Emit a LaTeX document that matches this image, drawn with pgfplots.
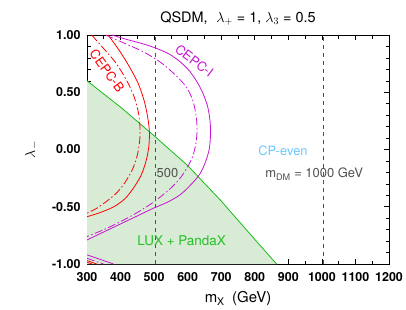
\documentclass[border=0pt]{standalone}
\usepackage{pgfplots}
\pgfplotsset{compat=1.18}
\usepackage{fontspec}
\setmainfont{TeX Gyre Heros}
\definecolor{fillg}{RGB}{216,235,213}
\definecolor{lineg}{RGB}{20,190,20}
\definecolor{txtg}{RGB}{40,190,40}
\definecolor{mag}{RGB}{200,20,210}
\definecolor{skyb}{RGB}{110,200,255}
\definecolor{dgray}{RGB}{80,80,80}
\begin{document}
\begin{tikzpicture}
\begin{axis}[name=ax, scale only axis, width=302bp, height=229bp,
  xmin=300, xmax=1200, ymin=-1, ymax=1,
  xtick={300,400,500,600,700,800,900,1000,1100,1200},
  xticklabels={300,400,500,600,700,800,900,1000,1100,1200},
  ytick={-1,-0.5,0,0.5,1},
  yticklabels={-1.00,-0.50,0.00,0.50,1.00},
  minor x tick num=1, minor y tick num=4,
  tick align=inside, xtick pos=both, ytick pos=both,
  major tick length=5bp, minor tick length=3.5bp,
  tick style={black, line width=0.6pt},
  axis line style={line width=1pt},
  ticklabel style={font=\fontsize{12.5}{14}\selectfont\bfseries},
  xticklabel style={yshift=-5bp},
  yticklabel style={xshift=-3bp},
  xlabel={m$_{\mathrm{X}}$\,\,\,(GeV)},
  ylabel={$\lambda_-$},
  xlabel style={font=\fontsize{15}{17}\selectfont, yshift=-3bp},
  ylabel style={font=\fontsize{15}{17}\selectfont, yshift=7bp},
  title={QSDM,\,\, $\lambda_+$ = 1, $\lambda_3$ = 0.5},
  title style={font=\fontsize{14.5}{16}\selectfont},
  clip=true,
]
% LUX + PandaX excluded region
\addplot[fill=fillg, draw=none] coordinates {(300,-1) (300,0.60) (400,0.37) (500,0.12) (600,-0.14) (700,-0.45) (800,-0.785) (865,-1.0)} -- cycle;
\addplot[lineg, line width=0.8pt] coordinates {(300,0.60) (400,0.37) (500,0.12) (600,-0.14) (700,-0.45) (800,-0.785) (865,-1.0)};
% red solid
\addplot[red, line width=0.8pt, smooth] coordinates {(363,1.0) (395,0.87) (425,0.73) (452,0.58) (470,0.43) (481,0.28) (486,0.15) (484,0.02) (476,-0.10) (462,-0.22) (440,-0.33) (413,-0.43) (380,-0.50) (340,-0.55) (300,-0.587)};
\addplot[red, line width=0.8pt] coordinates {(300,-0.97) (329,-1.0)};
% red dash-dot
\addplot[red, line width=0.8pt, smooth, dash pattern=on 8pt off 2.5pt on 1.5pt off 2.5pt] coordinates {(314,1.0) (350,0.88) (385,0.76) (415,0.62) (438,0.48) (452,0.34) (458,0.2) (457,0.08) (450,-0.05) (436,-0.17) (415,-0.28) (388,-0.38) (355,-0.46) (325,-0.52) (300,-0.556)};
\addplot[red, line width=0.8pt, dash pattern=on 8pt off 2.5pt on 1.5pt off 2.5pt] coordinates {(300,-0.985) (315,-1.0)};
% magenta solid
\addplot[mag, line width=0.8pt, smooth] coordinates {(374,1.0) (420,0.96) (470,0.92) (510,0.88) (547,0.83) (580,0.76) (607,0.68) (630,0.58) (647,0.48) (660,0.37) (667,0.24) (668,0.12) (664,0.0) (653,-0.11) (637,-0.21) (615,-0.29) (580,-0.39) (540,-0.46) (500,-0.51) (450,-0.58) (400,-0.65) (350,-0.72) (300,-0.79)};
\addplot[mag, line width=0.8pt, smooth] coordinates {(300,-0.92) (340,-0.96) (379,-1.0)};
% magenta dash-dot
\addplot[mag, line width=0.8pt, smooth, dash pattern=on 8pt off 2.5pt on 1.5pt off 2.5pt] coordinates {(355,1.0) (410,0.93) (470,0.85) (520,0.76) (560,0.66) (595,0.55) (615,0.43) (625,0.30) (628,0.18) (625,0.06) (615,-0.06) (598,-0.16) (575,-0.26) (545,-0.35) (500,-0.456) (450,-0.55) (400,-0.63) (350,-0.70) (300,-0.76)};
\addplot[mag, line width=0.8pt, dash pattern=on 8pt off 2.5pt on 1.5pt off 2.5pt] coordinates {(300,-0.95) (349,-1.0)};
% dashed verticals
\addplot[dgray, line width=0.8pt, dash pattern=on 4pt off 4pt] coordinates {(505,-1) (505,1)};
\addplot[dgray, line width=0.8pt, dash pattern=on 4pt off 4pt] coordinates {(1005,-1) (1005,1)};
% labels
\node[red, rotate=-54, font=\fontsize{13}{15}\selectfont] at (axis cs:360,0.69) {CEPC-B};
\node[mag, rotate=-37, font=\fontsize{13}{15}\selectfont] at (axis cs:620,0.775) {CEPC-I};
\node[dgray, font=\fontsize{13}{15}\selectfont] at (axis cs:540,-0.205) {500};
\node[skyb, font=\fontsize{13}{15}\selectfont] at (axis cs:884,-0.013) {CP-even};
\node[dgray, font=\fontsize{13}{15}\selectfont] at (axis cs:977,-0.215) {m$_{\mathrm{DM}}$ = 1000 GeV};
\node[txtg, font=\fontsize{13.5}{15}\selectfont] at (axis cs:582,-0.80) {LUX + PandaX};
\end{axis}
\pgfresetboundingbox
\path[use as bounding box] ([xshift=-87bp,yshift=-45bp]ax.south west) rectangle ([xshift=17bp,yshift=35bp]ax.north east);
\end{tikzpicture}
\end{document}
